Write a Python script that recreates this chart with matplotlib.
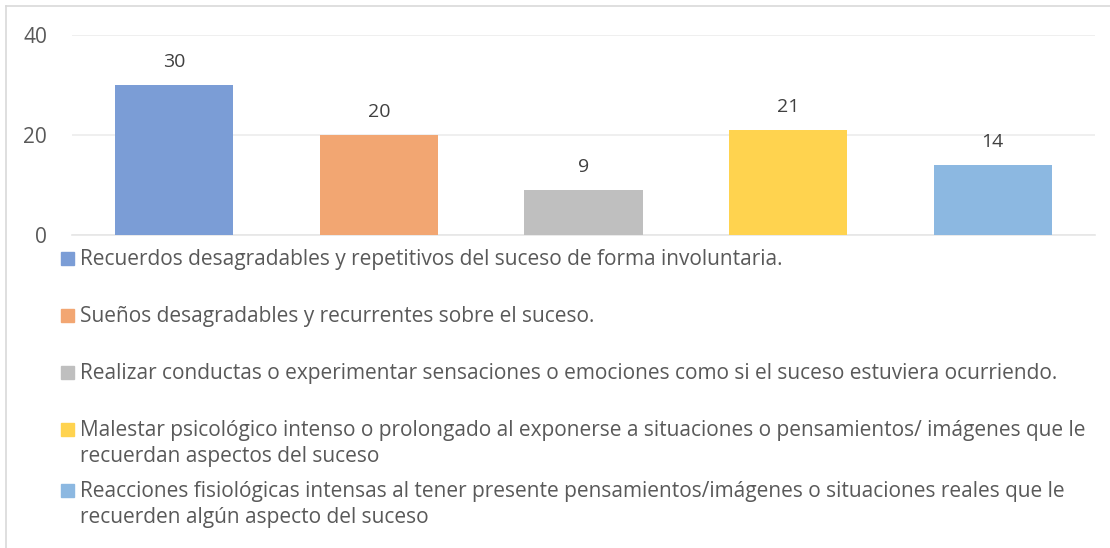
import matplotlib.pyplot as plt
from matplotlib.patches import Rectangle
from matplotlib.lines import Line2D

# data
labels = [
    "Recuerdos desagradables y repetitivos del suceso de forma involuntaria.",
    "Sueños desagradables y recurrentes sobre el suceso.",
    "Realizar conductas o experimentar sensaciones o emociones como si el suceso estuviera ocurriendo.",
    "Malestar psicológico intenso o prolongado al exponerse a situaciones o pensamientos/ imágenes que le\nrecuerdan aspectos del suceso",
    "Reacciones fisiológicas intensas al tener presente pensamientos/imágenes o situaciones reales que le\nrecuerden algún aspecto del suceso",
]
values = [30, 20, 9, 21, 14]
colors = ["#7b9dd6", "#f2a672", "#bfbfbf", "#ffd34f", "#8cb8e1"]
yticks = [0, 20, 40]

W, H = 1110, 548
plt.rcParams['font.family'] = ['Open Sans', 'DejaVu Sans']
txt = "#595959"

fig = plt.figure(figsize=(W/100, H/100), dpi=100)

# outer chart frame (only top/left visible)
fig.add_artist(Line2D([6/W, 1.0], [1-6/H, 1-6/H], color="#d9d9d9", lw=1.2))
fig.add_artist(Line2D([6/W, 6/W], [0, 1-6/H], color="#d9d9d9", lw=1.2))

ax = fig.add_axes([72/W, 1-235/H, (1095-72)/W, 200/H])
x = range(len(values))
bars = ax.bar(x, values, width=0.577, color=colors, zorder=3)
for xi, v in zip(x, values):
    ax.annotate(str(v), (xi, v), xytext=(0, 10), textcoords="offset points",
                ha="center", va="bottom", fontsize=14, color="#404040")

ax.set_xlim(-0.5, len(values)-0.5)
ax.set_ylim(0, 40)
ax.set_yticks(yticks)
ax.set_xticks([])
ax.grid(axis="y", color="#ececec", lw=1.2, zorder=0)
for s in ["top", "right", "left"]:
    ax.spines[s].set_visible(False)
ax.spines["bottom"].set_color("#e6e6e6")
ax.spines["bottom"].set_linewidth(1.2)
ax.tick_params(axis="y", length=0, labelsize=15, labelcolor=txt, pad=18)

# legend, drawn by hand so long entries wrap like the original
row_y = [258, 315, 372, 429, 490]
for lab, c, yy in zip(labels, colors, row_y):
    fig.add_artist(Rectangle((61/W, 1-(yy+7)/H), 13/W, 13/H, color=c,
                             transform=fig.transFigure))
    fig.text(80/W, 1-(yy-9)/H, lab, fontsize=15, color=txt, va="top",
             ha="left", linespacing=1.3)

fig.savefig("out.png", dpi=100)
